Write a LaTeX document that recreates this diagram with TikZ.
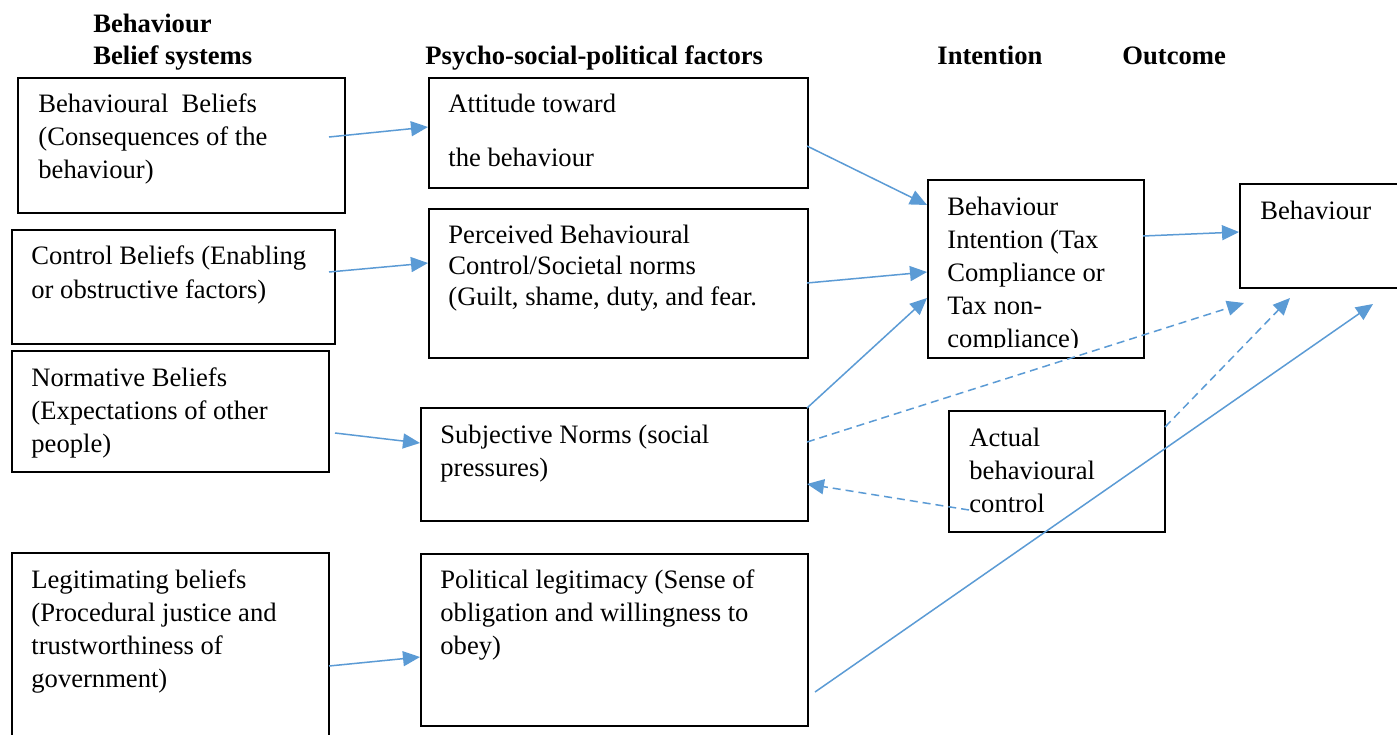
\documentclass[tikz,border=0pt]{standalone}
\usepackage{fontspec}
\setmainfont{Liberation Serif}
\usetikzlibrary{arrows.meta,calc}
\definecolor{lnblue}{HTML}{5B9BD5}
\tikzset{
  boxn/.style={draw=black, line width=0.75pt, rectangle, anchor=north west, inner sep=0pt},
  txt/.style={anchor=north west, inner sep=0pt, align=left, font=\fontsize{13.3}{16.5}\selectfont},
  hdr/.style={anchor=north west, inner sep=0pt, align=left, font=\fontsize{13.3}{16}\selectfont\bfseries},
  conn/.style={draw=lnblue, line width=0.75pt, -{Triangle[length=8.5pt,width=7.5pt]}},
  dconn/.style={conn, dash pattern=on 4pt off 2.5pt}
}
\begin{document}
\begin{tikzpicture}[x=0.5pt,y=-0.5pt]
\clip (0,0) rectangle (1397,734);
\fill[white] (0,0) rectangle (1397,734);
% headers
\node[hdr] (h1) at (93,10) {\strut Behaviour\\Belief systems};
\node[hdr] (h2) at (425,42) {\strut Psycho-social-political factors};
\node[hdr] (h3) at (937,42) {\strut Intention};
\node[hdr] (h4) at (1122,42) {\strut Outcome};
% boxes
\node[boxn, minimum width=163.5pt, minimum height=67.5pt] (b1) at (17,77) {};
\node[boxn, minimum width=161.5pt, minimum height=57pt] (b2) at (11,229) {};
\node[boxn, minimum width=158.5pt, minimum height=60.5pt] (b3) at (11,350) {};
\node[boxn, minimum width=158.5pt, minimum height=100pt] (b4) at (11,552) {};
\node[boxn, minimum width=189.5pt, minimum height=55pt] (b5) at (428,77) {};
\node[boxn, minimum width=189.5pt, minimum height=74.5pt] (b6) at (428,208) {};
\node[boxn, minimum width=193.5pt, minimum height=56.5pt] (b7) at (420,407) {};
\node[boxn, minimum width=193.5pt, minimum height=86pt] (b8) at (420,553) {};
\node[boxn, minimum width=108pt, minimum height=89pt] (b9) at (927,179) {};
\node[boxn, minimum width=85pt, minimum height=52pt] (b10) at (1239,183) {};
\node[boxn, minimum width=108pt, minimum height=60.5pt] (b11) at (948,410) {};
% texts
\node[txt] (t1) at (38,89) {\strut Behavioural\ \ Beliefs\\(Consequences of the\\behaviour)};
\node[txt] (t2) at (31,241) {\strut Control Beliefs (Enabling\\[0.5pt]or obstructive factors)};
\node[txt] (t3) at (31,363) {\strut Normative Beliefs\\(Expectations of other\\people)};
\node[txt] (t4) at (31,565) {\strut Legitimating beliefs\\(Procedural justice and\\trustworthiness of\\government)};
\node[txt] (t5) at (448,89) {\strut Attitude toward\\[10.5pt]the behaviour};
\node[txt, font=\fontsize{13.3}{15.5}\selectfont] (t6) at (448,221) {\strut Perceived Behavioural\\Control/Societal norms\\(Guilt, shame, duty, and fear.};
\node[txt] (t7) at (440,420) {\strut Subjective Norms (social\\pressures)};
\node[txt] (t8) at (440,565) {\strut Political legitimacy (Sense of\\obligation and willingness to\\obey)};
\begin{scope}
\clip (927,179) rectangle (1143,347);
\node[txt] (t9) at (947,192) {\strut Behaviour\\Intention (Tax\\Compliance or\\Tax non-\\compliance)};
\end{scope}
\node[txt] (t10) at (1260,196) {\strut Behaviour};
\node[txt] (t11) at (969,423) {\strut Actual\\behavioural\\control};
% connectors
\draw[conn] ($(b1.north west)+(312,60)$) -- ($(b5.north west)+(0,50)$);
\draw[conn] ($(b2.north west)+(318,43)$) -- ($(b6.north west)+(0,55)$);
\draw[conn] ($(b3.north west)+(324,83)$) -- ($(b7.north west)+(0,36)$);
\draw[conn] ($(b4.north west)+(318,114)$) -- ($(b8.north west)+(0,104)$);
\draw[conn] ($(b5.north west)+(379,69)$) -- ($(b9.north west)+(0,26)$);
\draw[conn] ($(b6.north west)+(379,75)$) -- ($(b9.north west)+(0,93)$);
\draw[conn] ($(b7.north west)+(387,1)$) -- ($(b9.north west)+(0,119)$);
\draw[conn] ($(b9.north west)+(216,57)$) -- ($(b10.north west)+(0,49)$);
\draw[conn] ($(b8.north west)+(395,139)$) -- ($(b10.north west)+(134,121)$);
\draw[dconn] ($(b7.north west)+(387,35)$) -- ($(b10.north west)+(5,120)$);
\draw[dconn] ($(b11.north west)+(217,17)$) -- ($(b10.north west)+(51,115)$);
\draw[dconn] ($(b11.north west)+(21,100)$) -- ($(b7.north west)+(387,77)$);
\end{tikzpicture}
\end{document}
